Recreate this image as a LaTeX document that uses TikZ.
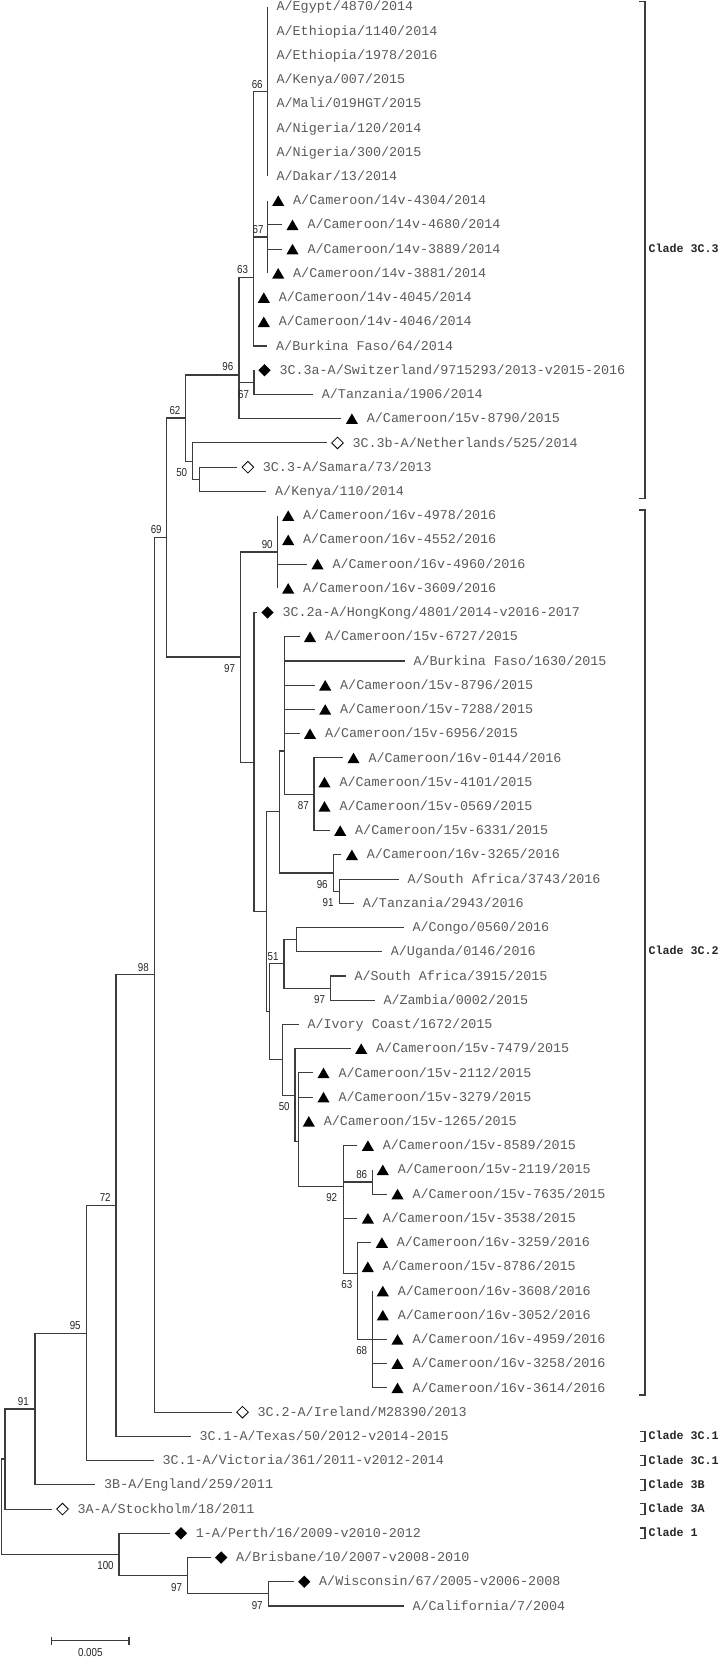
\documentclass[tikz,border=0pt]{standalone}
\usepackage{fontspec}
\usetikzlibrary{shapes.geometric}
\newfontfamily\mymono{Liberation Mono}
\newfontfamily\mybs[FakeStretch=0.85]{Liberation Sans}
\definecolor{ln}{HTML}{3C3C3C}
\definecolor{tx}{HTML}{5A5A5A}
\tikzset{
 br/.style={draw=ln, line width=1.1pt},
 leaf/.style={anchor=west, inner sep=0pt, text height=8.2pt, text depth=0pt, text=tx, font=\fontsize{13.4}{14}\selectfont\mymono},
 tri/.style={regular polygon, regular polygon sides=3, fill=black, inner sep=0pt, minimum size=14pt, yshift=-1.75pt},
 fdia/.style={diamond, fill=black, inner sep=0pt, minimum width=12.5pt, minimum height=12.5pt},
 odia/.style={diamond, draw=black, fill=white, line width=0.8pt, inner sep=0pt, minimum width=12pt, minimum height=12pt},
 bs/.style={inner sep=0pt, text height=8.2pt, text depth=0pt, font=\fontsize{11.5}{12}\selectfont\mybs, text=black!85},
 clade/.style={anchor=west, inner sep=0pt, text height=7pt, text depth=0pt, font=\fontsize{11.7}{12}\selectfont\mymono\bfseries, text=black!85},
}
% plain leaf: name, x end, row, parent, text
\newcommand\lfp[5]{%
  \coordinate (#1) at (#2,{6.8+24.23*(#3)});
  \draw[br] (#4) |- (#1);
  \node[leaf] (#1l) at ([xshift=8.7pt]#1) {#5};
}
% marked leaf: name, x end, row, parent, marker style, text
\newcommand\lfm[6]{%
  \coordinate (#1) at (#2,{6.8+24.23*(#3)});
  \draw[br] (#4) |- (#1);
  \node[#5] (#1m) at ([xshift=10.5pt]#1) {};
  \node[leaf] (#1l) at ([xshift=25.3pt]#1) {#6};
}
\newcommand\inn[4]{% name, x, y, parent
  \coordinate (#1) at (#2,#3);
  \draw[br] (#4) |- (#1);
}
\begin{document}
\begin{tikzpicture}[x=1pt,y=-1pt]
\useasboundingbox (0,0) rectangle (719,1658);
% internal nodes
\coordinate (root) at (1.5,1506.8);
\inn{nS}{5}{1459}{root}
\inn{n100}{119}{1554.5}{root}
\inn{n97d}{187.3}{1575.7}{n100}
\inn{n97e}{268.3}{1593.9}{n97d}
\inn{n91}{35}{1409}{nS}
\inn{n95}{86.7}{1333.1}{n91}
\inn{n72}{116}{1205.6}{n95}
\inn{n98}{154.3}{974.8}{n72}
\inn{n69}{166.7}{537.5}{n98}
\inn{n62}{185.7}{418}{n69}
\inn{n96}{239}{375}{n62}
\inn{n63}{253.3}{277.7}{n96}
\inn{n66}{267.7}{91.6}{n63}
\inn{n67}{267.7}{237}{n63}
\inn{n67b}{254}{382.4}{n96}
\inn{nK}{192.7}{461.1}{n62}
\inn{n50}{199.3}{479.3}{nK}
\inn{n97}{240.7}{657}{n69}
\inn{n90}{277.7}{552}{n97}
\inn{nA}{254}{762.1}{n97}
\inn{nB}{266.3}{911.7}{nA}
\inn{nD}{279.3}{811.5}{nB}
\inn{nC}{284.3}{751}{nD}
\inn{n87}{314}{794.3}{nC}
\inn{n96b}{333.3}{873}{nD}
\inn{n91b}{339.3}{891.2}{n96b}
\inn{nG}{269.3}{1011.9}{nB}
\inn{nF}{284}{963.9}{nG}
\inn{nE}{296.7}{939.6}{nF}
\inn{n97c}{330.7}{988.1}{nF}
\inn{nH}{282.7}{1059.9}{nG}
\inn{nI}{295}{1095.2}{nH}
\inn{nJ}{298.3}{1141.7}{nI}
\inn{n92}{343.3}{1186.7}{nJ}
\inn{n86}{372.3}{1182}{n92}
\inn{n63c}{357.3}{1273.3}{n92}
\inn{n68}{372.3}{1339.4}{n63c}
% leaves
\lfp{t0}{267.7}{0}{n66}{A/Egypt/4870/2014}
\lfp{t1}{267.7}{1}{n66}{A/Ethiopia/1140/2014}
\lfp{t2}{267.7}{2}{n66}{A/Ethiopia/1978/2016}
\lfp{t3}{267.7}{3}{n66}{A/Kenya/007/2015}
\lfp{t4}{267.7}{4}{n66}{A/Mali/019HGT/2015}
\lfp{t5}{267.7}{5}{n66}{A/Nigeria/120/2014}
\lfp{t6}{267.7}{6}{n66}{A/Nigeria/300/2015}
\lfp{t7}{267.7}{7}{n66}{A/Dakar/13/2014}
\lfm{t8}{267.7}{8}{n67}{tri}{A/Cameroon/14v-4304/2014}
\lfm{t9}{282}{9}{n67}{tri}{A/Cameroon/14v-4680/2014}
\lfm{t10}{282}{10}{n67}{tri}{A/Cameroon/14v-3889/2014}
\lfm{t11}{267.7}{11}{n67}{tri}{A/Cameroon/14v-3881/2014}
\lfm{t12}{253.3}{12}{n63}{tri}{A/Cameroon/14v-4045/2014}
\lfm{t13}{253.3}{13}{n63}{tri}{A/Cameroon/14v-4046/2014}
\lfp{t14}{267.3}{14}{n63}{A/Burkina Faso/64/2014}
\lfm{t15}{254}{15}{n67b}{fdia}{3C.3a-A/Switzerland/9715293/2013-v2015-2016}
\lfp{t16}{313}{16}{n67b}{A/Tanzania/1906/2014}
\lfm{t17}{341.4}{17}{n96}{tri}{A/Cameroon/15v-8790/2015}
\lfm{t18}{327}{18}{nK}{odia}{3C.3b-A/Netherlands/525/2014}
\lfm{t19}{237.4}{19}{n50}{odia}{3C.3-A/Samara/73/2013}
\lfp{t20}{266.3}{20}{n50}{A/Kenya/110/2014}
\lfm{t21}{277.7}{21}{n90}{tri}{A/Cameroon/16v-4978/2016}
\lfm{t22}{277.7}{22}{n90}{tri}{A/Cameroon/16v-4552/2016}
\lfm{t23}{307}{23}{n90}{tri}{A/Cameroon/16v-4960/2016}
\lfm{t24}{277.7}{24}{n90}{tri}{A/Cameroon/16v-3609/2016}
\lfm{t25}{257}{25}{nA}{fdia}{3C.2a-A/HongKong/4801/2014-v2016-2017}
\lfm{t26}{299.5}{26}{nC}{tri}{A/Cameroon/15v-6727/2015}
\lfp{t27}{404.6}{27}{nC}{A/Burkina Faso/1630/2015}
\lfm{t28}{314.7}{28}{nC}{tri}{A/Cameroon/15v-8796/2015}
\lfm{t29}{314.7}{29}{nC}{tri}{A/Cameroon/15v-7288/2015}
\lfm{t30}{299.5}{30}{nC}{tri}{A/Cameroon/15v-6956/2015}
\lfm{t31}{343}{31}{n87}{tri}{A/Cameroon/16v-0144/2016}
\lfm{t32}{314}{32}{n87}{tri}{A/Cameroon/15v-4101/2015}
\lfm{t33}{314}{33}{n87}{tri}{A/Cameroon/15v-0569/2015}
\lfm{t34}{329.7}{34}{n87}{tri}{A/Cameroon/15v-6331/2015}
\lfm{t35}{341.4}{35}{n96b}{tri}{A/Cameroon/16v-3265/2016}
\lfp{t36}{398.6}{36}{n91b}{A/South Africa/3743/2016}
\lfp{t37}{354}{37}{n91b}{A/Tanzania/2943/2016}
\lfp{t38}{403.6}{38}{nE}{A/Congo/0560/2016}
\lfp{t39}{382}{39}{nE}{A/Uganda/0146/2016}
\lfp{t40}{345.6}{40}{n97c}{A/South Africa/3915/2015}
\lfp{t41}{374.6}{41}{n97c}{A/Zambia/0002/2015}
\lfp{t42}{298.6}{42}{nH}{A/Ivory Coast/1672/2015}
\lfm{t43}{350.7}{43}{nI}{tri}{A/Cameroon/15v-7479/2015}
\lfm{t44}{313}{44}{nJ}{tri}{A/Cameroon/15v-2112/2015}
\lfm{t45}{313}{45}{nJ}{tri}{A/Cameroon/15v-3279/2015}
\lfm{t46}{298.3}{46}{nJ}{tri}{A/Cameroon/15v-1265/2015}
\lfm{t47}{357.4}{47}{n92}{tri}{A/Cameroon/15v-8589/2015}
\lfm{t48}{372.3}{48}{n86}{tri}{A/Cameroon/15v-2119/2015}
\lfm{t49}{387}{49}{n86}{tri}{A/Cameroon/15v-7635/2015}
\lfm{t50}{357.4}{50}{n92}{tri}{A/Cameroon/15v-3538/2015}
\lfm{t51}{371.4}{51}{n63c}{tri}{A/Cameroon/16v-3259/2016}
\lfm{t52}{357.3}{52}{n63c}{tri}{A/Cameroon/15v-8786/2015}
\lfm{t53}{372.3}{53}{n68}{tri}{A/Cameroon/16v-3608/2016}
\lfm{t54}{372.3}{54}{n68}{tri}{A/Cameroon/16v-3052/2016}
\lfm{t55}{387}{55}{n68}{tri}{A/Cameroon/16v-4959/2016}
\lfm{t56}{387}{56}{n68}{tri}{A/Cameroon/16v-3258/2016}
\lfm{t57}{387}{57}{n68}{tri}{A/Cameroon/16v-3614/2016}
\lfm{t58}{232}{58}{n98}{odia}{3C.2-A/Ireland/M28390/2013}
\lfp{t59}{190.6}{59}{n72}{3C.1-A/Texas/50/2012-v2014-2015}
\lfp{t60}{153.6}{60}{n95}{3C.1-A/Victoria/361/2011-v2012-2014}
\lfp{t61}{95.3}{61}{n91}{3B-A/England/259/2011}
\lfm{t62}{52}{62}{nS}{odia}{3A-A/Stockholm/18/2011}
\lfm{t63}{170.4}{63}{n100}{fdia}{1-A/Perth/16/2009-v2010-2012}
\lfm{t64}{210.7}{64}{n97d}{fdia}{A/Brisbane/10/2007-v2008-2010}
\lfm{t65}{293.7}{65}{n97e}{fdia}{A/Wisconsin/67/2005-v2006-2008}
\lfp{t66}{403.6}{66}{n97e}{A/California/7/2004}
% bootstrap values
\node[bs] (b66) at (257.2,84.7) {66};
\node[bs] (b67) at (258,229.8) {67};
\node[bs] (b63) at (242.5,269.2) {63};
\node[bs] (b96) at (227.8,366.5) {96};
\node[bs] (b67b) at (243.5,394.2) {67};
\node[bs] (b62) at (175,410) {62};
\node[bs] (b50) at (181.7,472.5) {50};
\node[bs] (b69) at (156.2,529.8) {69};
\node[bs] (b90) at (267.2,544.5) {90};
\node[bs] (b97) at (229.5,668.5) {97};
\node[bs] (b87) at (303.3,805.8) {87};
\node[bs] (b96b) at (322.2,884.5) {96};
\node[bs] (b91b) at (328,902.5) {91};
\node[bs] (b51) at (273,956.7) {51};
\node[bs] (b97c) at (319.5,999.5) {97};
\node[bs] (b98) at (143.3,967.5) {98};
\node[bs] (b50b) at (284.2,1106.7) {50};
\node[bs] (b86) at (361.7,1174.2) {86};
\node[bs] (b92) at (331.7,1197.8) {92};
\node[bs] (b72) at (105.2,1197.8) {72};
\node[bs] (b63c) at (346.8,1284.2) {63};
\node[bs] (b68) at (361.7,1350.8) {68};
\node[bs] (b95) at (75.2,1325) {95};
\node[bs] (b91) at (23.3,1401.7) {91};
\node[bs] (b100) at (105.5,1565.3) {100};
\node[bs] (b97d) at (176.5,1587) {97};
\node[bs] (b97e) at (257.2,1605.3) {97};
% clade brackets
\draw[br] (639.3,1.7) -- (645,1.7) -- (645,498.3) -- (639.3,498.3);
\node[clade] (c33) at (648.3,249) {Clade 3C.3};
\draw[br] (639.3,510) -- (645,510) -- (645,1395) -- (639.3,1395);
\node[clade] (c32) at (648.3,951) {Clade 3C.2};
\foreach \r/\lab [count=\i] in {59/Clade 3C.1,60/Clade 3C.1,61/Clade 3B,62/Clade 3A,63/Clade 1}{
  \draw[br] (640,{6.8+24.23*\r-5.3}) -- (645,{6.8+24.23*\r-5.3}) -- (645,{6.8+24.23*\r+5.3}) -- (640,{6.8+24.23*\r+5.3});
  \node[clade] (cs\i) at (648.3,{6.8+24.23*\r}) {\lab};
}
% scale bar
\coordinate (sb1) at (51.7,1640.7);
\coordinate (sb2) at (129,1640.7);
\draw[br] (sb1) -- (sb2);
\draw[br] ([yshift=4pt]sb1) -- ([yshift=-4pt]sb1);
\draw[br] ([yshift=4pt]sb2) -- ([yshift=-4pt]sb2);
\node[bs] (sbl) at (90.3,1652.8) {0.005};
\end{tikzpicture}
\end{document}
